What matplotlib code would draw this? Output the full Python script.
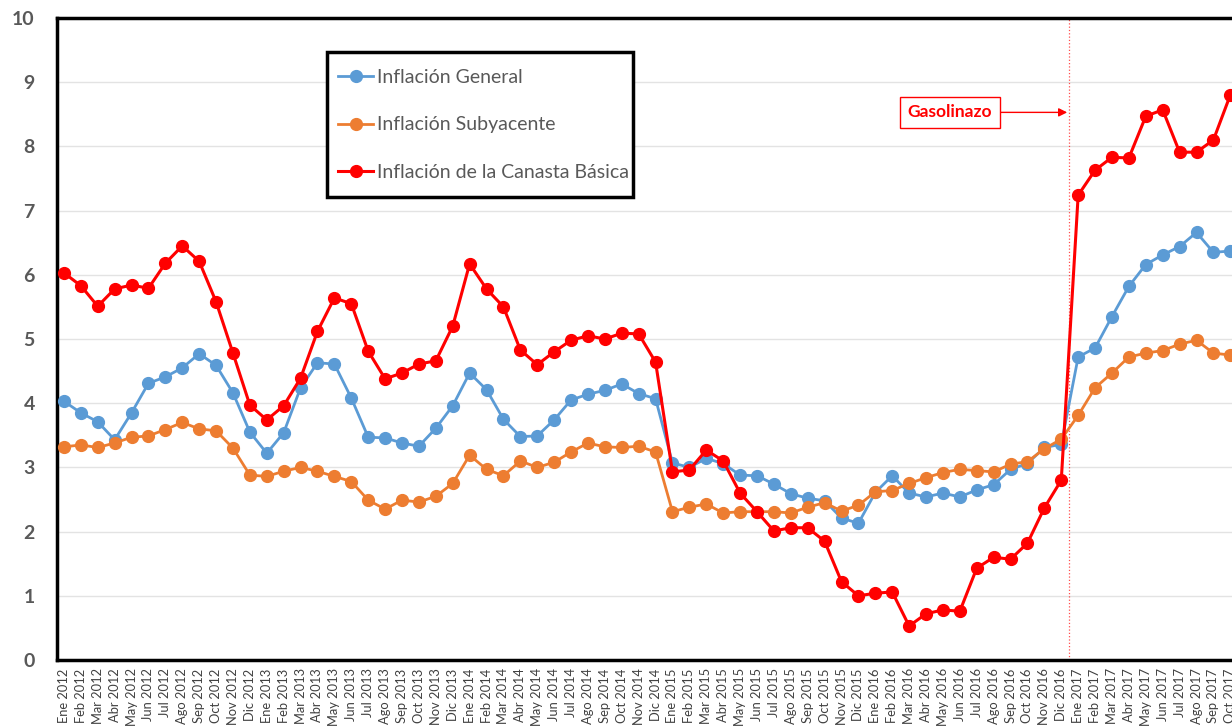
import matplotlib
matplotlib.use("Agg")
import matplotlib.pyplot as plt
from matplotlib.patches import Rectangle

# meses Ene 2012 - Oct 2017
meses = ['Ene', 'Feb', 'Mar', 'Abr', 'May', 'Jun', 'Jul', 'Ago', 'Sep', 'Oct', 'Nov', 'Dic']
etiquetas = [m + ' ' + str(a) for a in range(2012, 2018) for m in meses][:70]

general = [4.03, 3.85, 3.71, 3.43, 3.85, 4.31, 4.41, 4.55, 4.77, 4.59, 4.16, 3.55,
           3.22, 3.54, 4.24, 4.63, 4.61, 4.08, 3.47, 3.46, 3.38, 3.33, 3.61, 3.96,
           4.47, 4.21, 3.75, 3.48, 3.49, 3.74, 4.05, 4.14, 4.20, 4.30, 4.15, 4.07,
           3.07, 3.00, 3.14, 3.06, 2.88, 2.87, 2.74, 2.59, 2.52, 2.48, 2.21, 2.13,
           2.61, 2.87, 2.60, 2.54, 2.60, 2.54, 2.65, 2.73, 2.97, 3.06, 3.31, 3.36,
           4.72, 4.86, 5.35, 5.82, 6.16, 6.31, 6.44, 6.66, 6.35, 6.37]

subyacente = [3.32, 3.35, 3.31, 3.38, 3.47, 3.49, 3.59, 3.70, 3.60, 3.57, 3.30, 2.88,
              2.86, 2.94, 3.00, 2.94, 2.86, 2.78, 2.49, 2.35, 2.49, 2.46, 2.55, 2.75,
              3.19, 2.97, 2.87, 3.10, 3.00, 3.08, 3.24, 3.38, 3.32, 3.31, 3.33, 3.24,
              2.31, 2.38, 2.43, 2.29, 2.31, 2.31, 2.31, 2.29, 2.38, 2.45, 2.32, 2.41,
              2.62, 2.64, 2.75, 2.84, 2.92, 2.97, 2.95, 2.93, 3.05, 3.09, 3.29, 3.44,
              3.81, 4.24, 4.47, 4.72, 4.78, 4.82, 4.92, 4.98, 4.78, 4.75]

canasta = [6.03, 5.83, 5.51, 5.78, 5.84, 5.79, 6.18, 6.45, 6.21, 5.58, 4.78, 3.97,
           3.74, 3.96, 4.39, 5.12, 5.64, 5.55, 4.81, 4.38, 4.47, 4.61, 4.66, 5.20,
           6.17, 5.78, 5.50, 4.83, 4.60, 4.80, 4.98, 5.05, 5.00, 5.09, 5.08, 4.64,
           2.93, 2.96, 3.27, 3.10, 2.60, 2.31, 2.01, 2.06, 2.06, 1.85, 1.22, 1.00,
           1.04, 1.06, 0.53, 0.72, 0.78, 0.76, 1.43, 1.60, 1.57, 1.82, 2.37, 2.80,
           7.24, 7.63, 7.83, 7.82, 8.47, 8.57, 7.91, 7.91, 8.10, 8.80]

gris = '#595959'
x = list(range(len(etiquetas)))

fig = plt.figure(figsize=(12.32, 7.28), dpi=100)
ax = fig.add_axes([57/1232, 1 - 660/728, 1 - 57/1232, (660 - 18)/728])

ax.plot(x, general, color='#5B9BD5', lw=2, marker='o', ms=8.5, label='Inflación General', zorder=3)
ax.plot(x, subyacente, color='#ED7D31', lw=2, marker='o', ms=8.5, label='Inflación Subyacente', zorder=4)
ax.plot(x, canasta, color='#FF0000', lw=2.2, marker='o', ms=8.5, label='Inflación de la Canasta Básica', zorder=5)

ax.set_xticks(x)
ax.set_xticklabels(etiquetas, rotation=90, fontsize=9.3, color='#404040', family='Lato')
ax.set_yticks(range(0, 11))
ax.tick_params(axis='x', length=0, pad=6)
ax.tick_params(axis='y', length=0, pad=16, labelsize=14, labelcolor=gris)
for t in ax.get_yticklabels():
    t.set_fontweight('bold')
    t.set_family('Lato')
ax.yaxis.grid(True, color='#E3E3E3', lw=1)
ax.set_axisbelow(True)

for s in ['left', 'top', 'bottom']:
    ax.spines[s].set_linewidth(2.5)
    ax.spines[s].set_color('black')
ax.spines['right'].set_visible(False)

# linea del gasolinazo
corte = etiquetas.index('Dic 2016') + 0.45
ax.axvline(corte, color='#FF0000', ls=':', lw=0.9, alpha=0.7, zorder=2)
ax.annotate('Gasolinazo', xy=(corte - 0.1, 8.53), xytext=(52.4, 8.53),
            color='#FF0000', fontsize=12.5, fontweight='bold', family='Lato',
            ha='center', va='center',
            bbox=dict(boxstyle='square,pad=0.45', fc='white', ec='#FF0000', lw=1),
            arrowprops=dict(arrowstyle='-|>', color='#FF0000', lw=1, shrinkA=0, shrinkB=0))

# marco de la leyenda
marco = Rectangle((327/1232, 1 - 197/728), (633 - 327)/1232, 145/728,
                  transform=fig.transFigure, fc='white', ec='black', lw=2.5,
                  zorder=6, clip_on=False)
ax.add_patch(marco)

leg = ax.legend(loc='center left', bbox_to_anchor=(338/1232, 1 - 125/728),
                bbox_transform=fig.transFigure, frameon=False,
                labelspacing=1.58, handlelength=1.8, handletextpad=0.2,
                borderpad=0, borderaxespad=0,
                prop={'family': 'Lato', 'size': 14})
leg.set_zorder(7)
for t in leg.get_texts():
    t.set_color(gris)

ax.set_xlim(-0.41, 69.1)
ax.set_ylim(0, 10)

fig.savefig('out.png', dpi=100)
